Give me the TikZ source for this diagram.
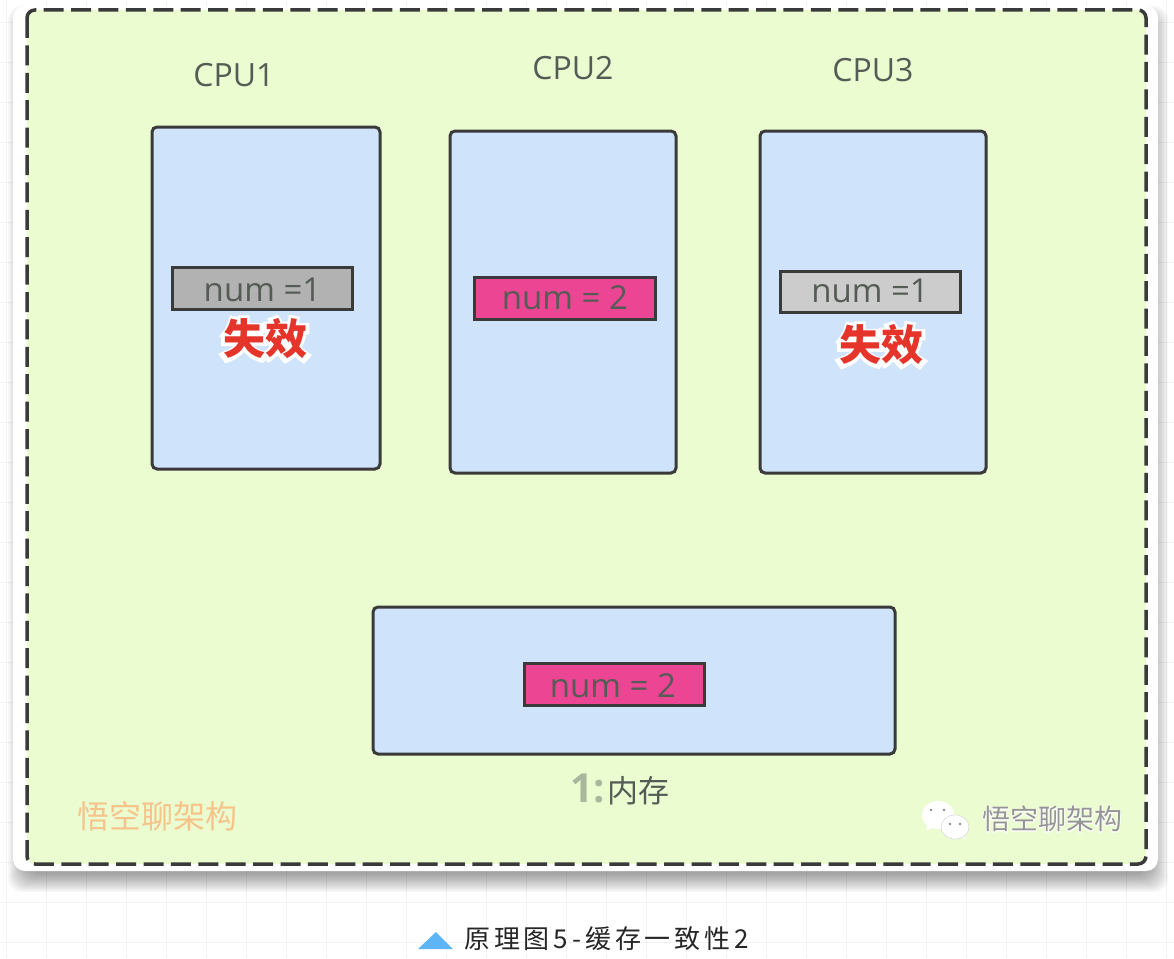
\documentclass[tikz,border=0pt]{standalone}
\usepackage{fontspec}
\setmainfont{Open Sans}
\newfontfamily\cjk{Noto Sans CJK SC}
\newfontfamily\cjkhalo[BoldFont=*,BoldFeatures={FakeBold=20}]{Noto Sans CJK SC}
\newfontfamily\cjkglow[FakeBold=5]{Noto Sans CJK SC}
\newfontfamily\capfont[LetterSpace=15]{Noto Sans CJK SC}
\newcommand{\fsz}[1]{\fontsize{#1}{#1}\selectfont}
\newcommand{\failtext}{\rlap{\cjkhalo\bfseries\textcolor{white}{失效}}{\cjk\bfseries\textcolor{failred}{失效}}}
\newcommand{\glowtext}{\rlap{\cjkglow\textcolor{white}{悟空聊架构}}{\cjk\textcolor{wmgray}{悟空聊架构}}}
\definecolor{ink}{HTML}{3A3A3A}
\definecolor{txt}{HTML}{555B55}
\definecolor{outerfill}{HTML}{EBFCD1}
\definecolor{boxblue}{HTML}{CFE3FB}
\definecolor{pinkfill}{HTML}{EC4593}
\definecolor{failred}{HTML}{E5352B}
\definecolor{smudge}{HTML}{A9B89C}
\definecolor{wmorange}{HTML}{F6C48A}
\definecolor{wmgray}{HTML}{959595}
\definecolor{triblue}{HTML}{5DB4F7}
\begin{document}
\begin{tikzpicture}[x=1pt,y=-1pt,
  panel/.style={draw=ink,line width=3pt,fill=boxblue,rounded corners=5pt,inner sep=0pt,outer sep=0pt},
  cell/.style={draw=ink,line width=3pt,inner sep=0pt,outer sep=0pt},
  celltext/.style={text=txt,font=\fsz{33},inner sep=0pt},
  head/.style={text=txt,font=\fsz{32},inner sep=0pt},
  fail/.style={font=\fsz{42},inner sep=0pt},
  wmark/.style={font=\cjk\fsz{32},inner sep=0pt}]
\useasboundingbox (0,0) rectangle (1174,958);
\fill[white] (0,0) rectangle (1174,958);
% grid
\foreach \gx in {6.5,46.5,...,1170}
  \draw[black!5,line width=.8pt] (\gx,0) -- (\gx,958);
\foreach \gy in {22.7,62.7,...,950}
  \draw[black!5,line width=.8pt] (0,\gy) -- (1174,\gy);
% shadow
\foreach \s in {0,1.5,...,18}
  \fill[black,opacity=.03,rounded corners=14pt]
    (26-\s,24-\s) rectangle (1150+\s,874+\s);
% card
\fill[white,rounded corners=12pt] (13,6) rectangle (1158,871);
% outer dashed frame
\draw[ink,line width=3.5pt,fill=outerfill,rounded corners=8pt,dash pattern=on 20pt off 7.4pt]
  (27,10) rectangle (1146,864);
% headings
\node[head] (h1) at (234,75) {CPU1};
\node[head] (h2) at (573,68) {CPU2};
\node[head] (h3) at (873,70) {CPU3};
% panels
\node[panel,minimum width=228pt,minimum height=342pt] (cpu1) at (266,298) {};
\node[panel,minimum width=226pt,minimum height=342pt] (cpu2) at (563,302) {};
\node[panel,minimum width=226pt,minimum height=342pt] (cpu3) at (873,302) {};
\node[panel,minimum width=522pt,minimum height=147pt] (mem) at (634,680.5) {};
% cells
\node[cell,fill=black!30,minimum width=180pt,minimum height=42pt] (c1) at (262,288) {};
\node[celltext] (t1) at (262.5,290) {num =1};
\node[cell,fill=pinkfill,minimum width=181pt,minimum height=42pt] (c2) at (564.5,298) {};
\node[celltext] (t2) at (565,298) {num = 2};
\node[cell,fill=black!20,minimum width=180pt,minimum height=41pt] (c3) at (870,291.5) {};
\node[celltext] (t3) at (870,291) {num =1};
\node[cell,fill=pinkfill,minimum width=180pt,minimum height=42pt] (c4) at (614,684) {};
\node[celltext] (t4) at (613,686) {num = 2};
% invalid labels with halo
\node[fail] (fail1) at (265,339) {\failtext};
\node[fail] (fail2) at (881,345) {\failtext};
% memory label
\node[font=\bfseries\fsz{40},text=smudge,inner sep=0pt,anchor=east] (one) at (605,788) {1:};
\node[font=\cjk\fsz{31},text=txt,inner sep=0pt,anchor=west] (memlabel) at (607,791) {内存};
% watermarks
\node[wmark,text=wmorange] (wm1) at (157,816) {悟空聊架构};
\node[font=\fsz{28},inner sep=0pt] (wm2) at (1052,819) {\glowtext};
% chat icon
\fill[white] (938,815) ellipse (16 and 14);
\fill[white] (927,825) -- (926,831) -- (934,827) -- cycle;
\fill[white] (955,827) ellipse (14 and 12);
\fill[white] (962,835) -- (966,839) -- (958,837) -- cycle;
\draw[black!15,line width=.6pt] (955,827) ellipse (14 and 12);
\fill[black!45] (931,810) circle (1.4) (944,810) circle (1.4) (950,824) circle (1.3) (960,824) circle (1.3);
% caption
\fill[triblue] (436,932) -- (453,949) -- (418,949) -- cycle;
\node[font=\capfont\fsz{26},text=black!85,inner sep=0pt,anchor=west] (caption) at (464,939) {原理图5-缓存一致性2};
\end{tikzpicture}
\end{document}
